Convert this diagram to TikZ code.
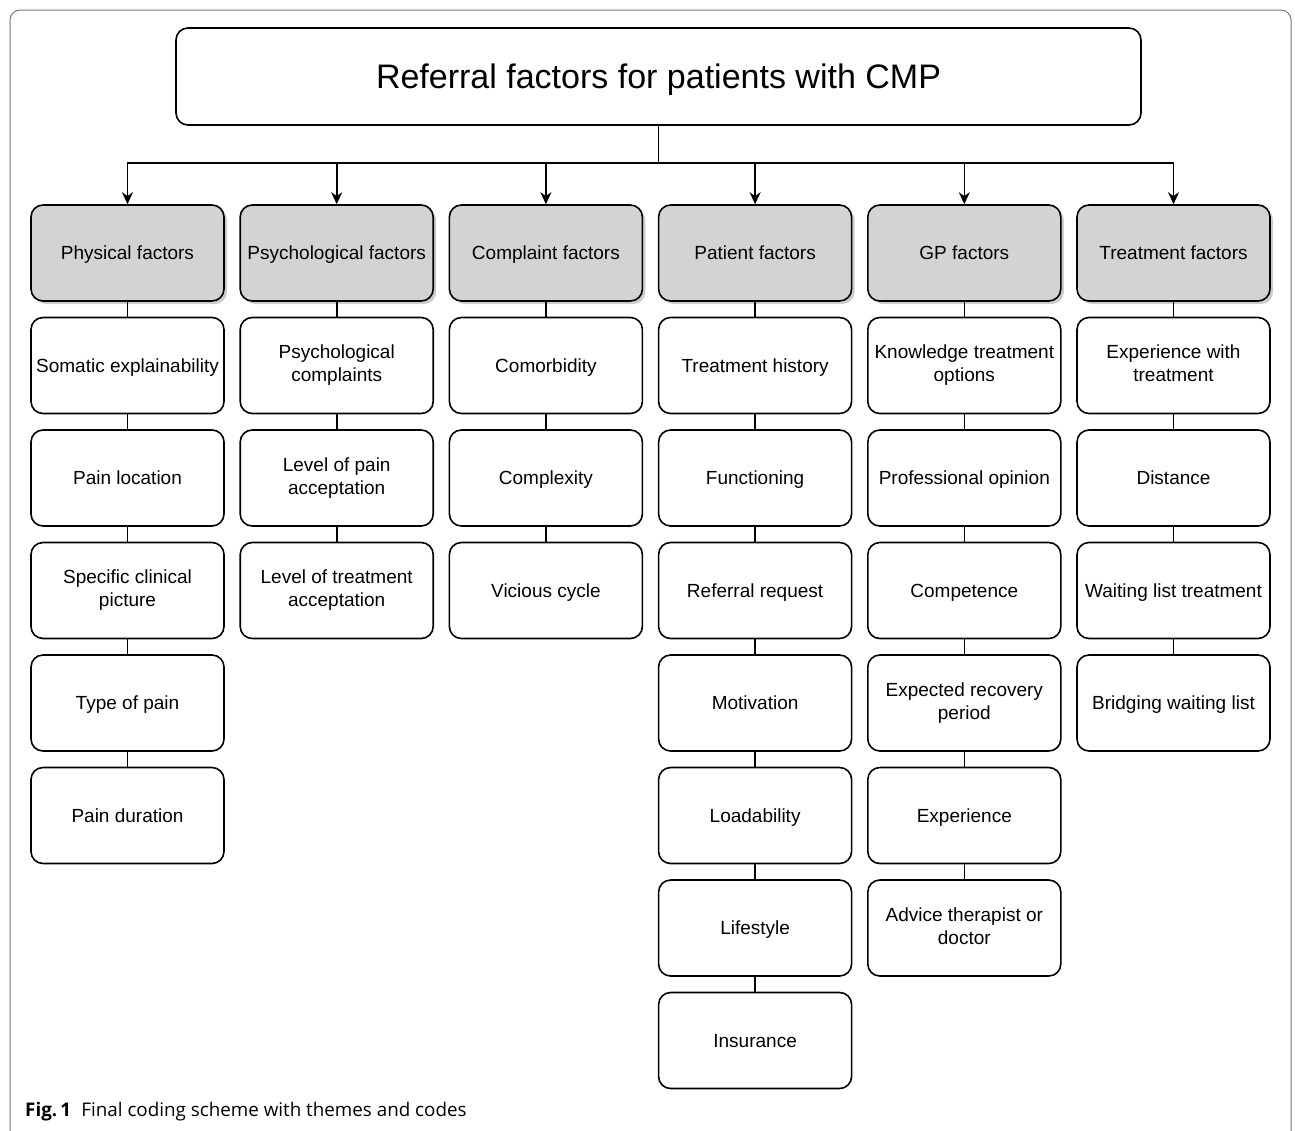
\documentclass[tikz,border=0pt]{standalone}
\usepackage{fontspec}
\setmainfont{Liberation Sans}
\newfontfamily\capfont{Open Sans}
\usetikzlibrary{shadows,arrows.meta}
\definecolor{headgray}{RGB}{211,211,211}
\definecolor{framegray}{RGB}{120,120,120}
\newcommand\mystrut{\vrule width 0pt height 0.9em depth 0.2em\relax}
\begin{document}
\begin{tikzpicture}[x=1pt,y=-1pt,
 box/.style={draw=black, line width=1.6pt, rounded corners=12pt, minimum width=193pt, minimum height=96pt, align=center, font=\fontsize{19}{23}\selectfont, fill=white, inner sep=2pt, execute at begin node=\mystrut, execute at end node=\mystrut},
 head/.style={box, fill=headgray, drop shadow={shadow xshift=3pt, shadow yshift=-3pt, fill=black!40, opacity=0.5}},
 link/.style={line width=1.6pt},
 arr/.style={line width=1.6pt, -{Stealth[length=12pt,width=11pt]}}]
\useasboundingbox (0,0) rectangle (1295,1130);
\begin{scope}
\clip (0,0) rectangle (1295,1130);
\draw[framegray, line width=1pt, rounded corners=10pt] (10,10) rectangle (1291,1145);
\end{scope}

\node[box, minimum width=965pt, minimum height=97pt, font=\fontsize{34}{40}\selectfont] (title) at (658.5,76.5) {Referral factors for patients with CMP};
\coordinate (bus) at (658.5,163);

% headers
\node[head] (h1) at (127.5,253) {Physical factors};
\node[head] (h2) at (336.7,253) {Psychological factors};
\node[head] (h3) at (545.9,253) {Complaint factors};
\node[head] (h4) at (755.1,253) {Patient factors};
\node[head] (h5) at (964.3,253) {GP factors};
\node[head] (h6) at (1173.5,253) {Treatment factors};

% column 1
\node[box] (a1) at (127.5,365.5) {Somatic explainability};
\node[box] (a2) at (127.5,478) {Pain location};
\node[box] (a3) at (127.5,590.5) {Specific clinical\\picture};
\node[box] (a4) at (127.5,703) {Type of pain};
\node[box] (a5) at (127.5,815.5) {Pain duration};

% column 2
\node[box] (b1) at (336.7,365.5) {Psychological\\complaints};
\node[box] (b2) at (336.7,478) {Level of pain\\acceptation};
\node[box] (b3) at (336.7,590.5) {Level of treatment\\acceptation};

% column 3
\node[box] (c1) at (545.9,365.5) {Comorbidity};
\node[box] (c2) at (545.9,478) {Complexity};
\node[box] (c3) at (545.9,590.5) {Vicious cycle};

% column 4
\node[box] (d1) at (755.1,365.5) {Treatment history};
\node[box] (d2) at (755.1,478) {Functioning};
\node[box] (d3) at (755.1,590.5) {Referral request};
\node[box] (d4) at (755.1,703) {Motivation};
\node[box] (d5) at (755.1,815.5) {Loadability};
\node[box] (d6) at (755.1,928) {Lifestyle};
\node[box] (d7) at (755.1,1040.5) {Insurance};

% column 5
\node[box] (e1) at (964.3,365.5) {Knowledge treatment\\options};
\node[box] (e2) at (964.3,478) {Professional opinion};
\node[box] (e3) at (964.3,590.5) {Competence};
\node[box] (e4) at (964.3,703) {Expected recovery\\period};
\node[box] (e5) at (964.3,815.5) {Experience};
\node[box] (e6) at (964.3,928) {Advice therapist or\\doctor};

% column 6
\node[box] (f1) at (1173.5,365.5) {Experience with\\treatment};
\node[box] (f2) at (1173.5,478) {Distance};
\node[box] (f3) at (1173.5,590.5) {Waiting list treatment};
\node[box] (f4) at (1173.5,703) {Bridging waiting list};

% connectors
\draw[link] (title.south) -- (bus);
\foreach \h in {h1,h2,h3,h4,h5,h6} \draw[arr] (bus) -| (\h.north);

\draw[link] (h1.south) -- (a1.north) (a1.south) -- (a2.north) (a2.south) -- (a3.north) (a3.south) -- (a4.north) (a4.south) -- (a5.north);
\draw[link] (h2.south) -- (b1.north) (b1.south) -- (b2.north) (b2.south) -- (b3.north);
\draw[link] (h3.south) -- (c1.north) (c1.south) -- (c2.north) (c2.south) -- (c3.north);
\draw[link] (h4.south) -- (d1.north) (d1.south) -- (d2.north) (d2.south) -- (d3.north) (d3.south) -- (d4.north) (d4.south) -- (d5.north) (d5.south) -- (d6.north) (d6.south) -- (d7.north);
\draw[link] (h5.south) -- (e1.north) (e1.south) -- (e2.north) (e2.south) -- (e3.north) (e3.south) -- (e4.north) (e4.south) -- (e5.north) (e5.south) -- (e6.north);
\draw[link] (h6.south) -- (f1.north) (f1.south) -- (f2.north) (f2.south) -- (f3.north) (f3.south) -- (f4.north);

\node[anchor=west, inner sep=0pt, font=\capfont\fontsize{18.8}{22}\selectfont] (cap) at (25,1112) {\textbf{Fig.\,1}\hspace{0.55em}Final coding scheme with themes and codes};
\end{tikzpicture}
\end{document}
